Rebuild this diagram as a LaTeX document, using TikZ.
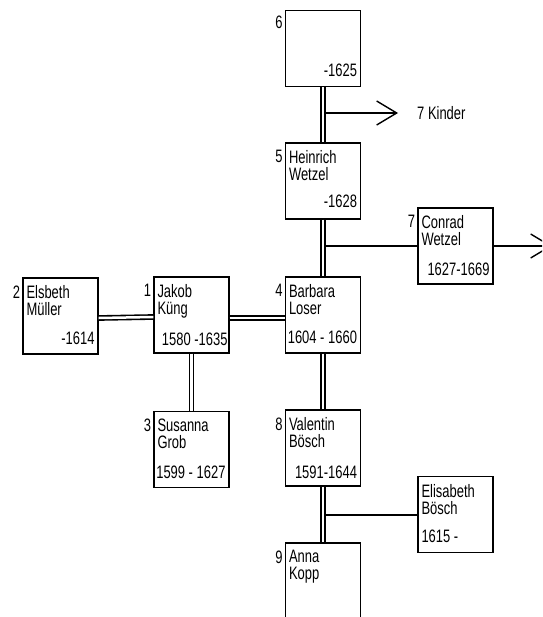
\documentclass[tikz,border=0pt]{standalone}
\usepackage{fontspec}
\setmainfont{Liberation Sans}[FakeStretch=0.72]
\usetikzlibrary{arrows.meta, positioning}

\begin{document}
\begin{tikzpicture}[
    x=1pt, y=-1pt,
    person/.style={
        draw,
        line width=1.4pt,
        minimum width=75pt,
        minimum height=76pt,
        inner sep=0pt
    },
    who/.style={
        anchor=north west,
        inner sep=0pt,
        align=left,
        font=\fontsize{18}{17}\selectfont
    },
    years/.style={
        anchor=base east,
        inner sep=0pt,
        font=\fontsize{18}{17}\selectfont
    },
    num/.style={
        anchor=north east,
        inner sep=0pt,
        font=\fontsize{18}{17}\selectfont
    },
    marriage/.style={
        double,
        double distance=2.5pt,
        line width=1.6pt
    },
    child/.style={
        line width=1.4pt
    },
    arrow/.style={
        -{Straight Barb[length=20pt, width=24pt]},
        line width=1.4pt
    }
]
\useasboundingbox (0,0) rectangle (542,617);
\clip (0,0) rectangle (542,617);

% Boxes (positioned like the family tree)
\node[person] (b6) at (323,48.5) {};
\node[person] (b5) at (323,181) {};
\node[person] (b7) at (455.5,246) {};
\node[person] (b4) at (323,315) {};
\node[person] (b1) at (191.5,315) {};
\node[person] (b2) at (60.5,316) {};
\node[person] (b3) at (191.5,449.5) {};
\node[person] (b8) at (323,448) {};
\node[person] (elis) at (455.5,514.5) {};
\node[person] (b9) at (323,581) {};

% Numbers
\node[num] (n6) at ([shift={(-2pt,-6pt)}]b6.north west) {6};
\node[num] (n5) at ([shift={(-2pt,-8pt)}]b5.north west) {5};
\node[num] (n7) at ([shift={(-2pt,-8pt)}]b7.north west) {7};
\node[num] (n4) at ([shift={(-2pt,-8pt)}]b4.north west) {4};
\node[num] (n1) at ([shift={(-2pt,-8pt)}]b1.north west) {1};
\node[num] (n2) at ([shift={(-2pt,-8pt)}]b2.north west) {2};
\node[num] (n3) at ([shift={(-2pt,-8pt)}]b3.north west) {3};
\node[num] (n8) at ([shift={(-2pt,-8pt)}]b8.north west) {8};
\node[num] (n9) at ([shift={(-2pt,-8pt)}]b9.north west) {9};

% Names
\node[who] (w5) at ([shift={(4pt,-8pt)}]b5.north west) {Heinrich\\Wetzel};
\node[who] (w7) at ([shift={(4pt,-8pt)}]b7.north west) {Conrad\\Wetzel};
\node[who] (w4) at ([shift={(4pt,-8pt)}]b4.north west) {Barbara\\Loser};
\node[who] (w1) at ([shift={(4pt,-8pt)}]b1.north west) {Jakob\\Küng};
\node[who] (w2) at ([shift={(4pt,-8pt)}]b2.north west) {Elsbeth\\Müller};
\node[who] (w3) at ([shift={(4pt,-8pt)}]b3.north west) {Susanna\\Grob};
\node[who] (w8) at ([shift={(4pt,-8pt)}]b8.north west) {Valentin\\Bösch};
\node[who] (welis) at ([shift={(4pt,-8pt)}]elis.north west) {Elisabeth\\Bösch};
\node[who] (w9) at ([shift={(4pt,-8pt)}]b9.north west) {Anna\\Kopp};

% Years
\node[years] (y6) at ([shift={(-4pt,11pt)}]b6.south east) {-1625};
\node[years] (y5) at ([shift={(-4pt,12pt)}]b5.south east) {-1628};
\node[years] (y7) at ([shift={(-4pt,9pt)}]b7.south east) {1627-1669};
\node[years] (y4) at ([shift={(-4pt,10pt)}]b4.south east) {1604 - 1660};
\node[years] (y1) at ([shift={(-2pt,8pt)}]b1.south east) {1580 -1635};
\node[years] (y2) at ([shift={(-4pt,10pt)}]b2.south east) {-1614};
\node[years] (y3) at ([shift={(-4pt,10pt)}]b3.south east) {1599 - 1627};
\node[years] (y8) at ([shift={(-4pt,8pt)}]b8.south east) {1591-1644};
\node[years, anchor=base west] (yelis) at ([shift={(4pt,11pt)}]elis.south west) {1615 -};

% Children lines
\coordinate (fork65) at (323,113);
\coordinate (kinder) at (398,113);
\coordinate (fork54) at (323,246);
\coordinate (out7) at (552,246);
\coordinate (fork89) at (323,515);

\draw[arrow] (fork65) -- (kinder);
\node[who, anchor=west, right=19pt of kinder] (kids) {7 Kinder};
\draw[child] (fork54) -- (fork54 -| b7.west);
\draw[arrow] (b7.east) -- (out7);
\draw[child] (fork89) -- (fork89 -| elis.west);

% Marriages and descent
\draw[marriage] (b6) -- (b5);
\draw[marriage] (b5) -- (b4);
\draw[marriage] (b4) -- (b8);
\draw[marriage] (b8) -- (b9);
\draw[marriage] (b1) -- (b3);
\draw[marriage] ([yshift=-2pt]b2.east) -- ([yshift=-2pt]b1.west);
\draw[marriage] ([yshift=-3pt]b1.east) -- ([yshift=-3pt]b4.west);

\end{tikzpicture}
\end{document}
